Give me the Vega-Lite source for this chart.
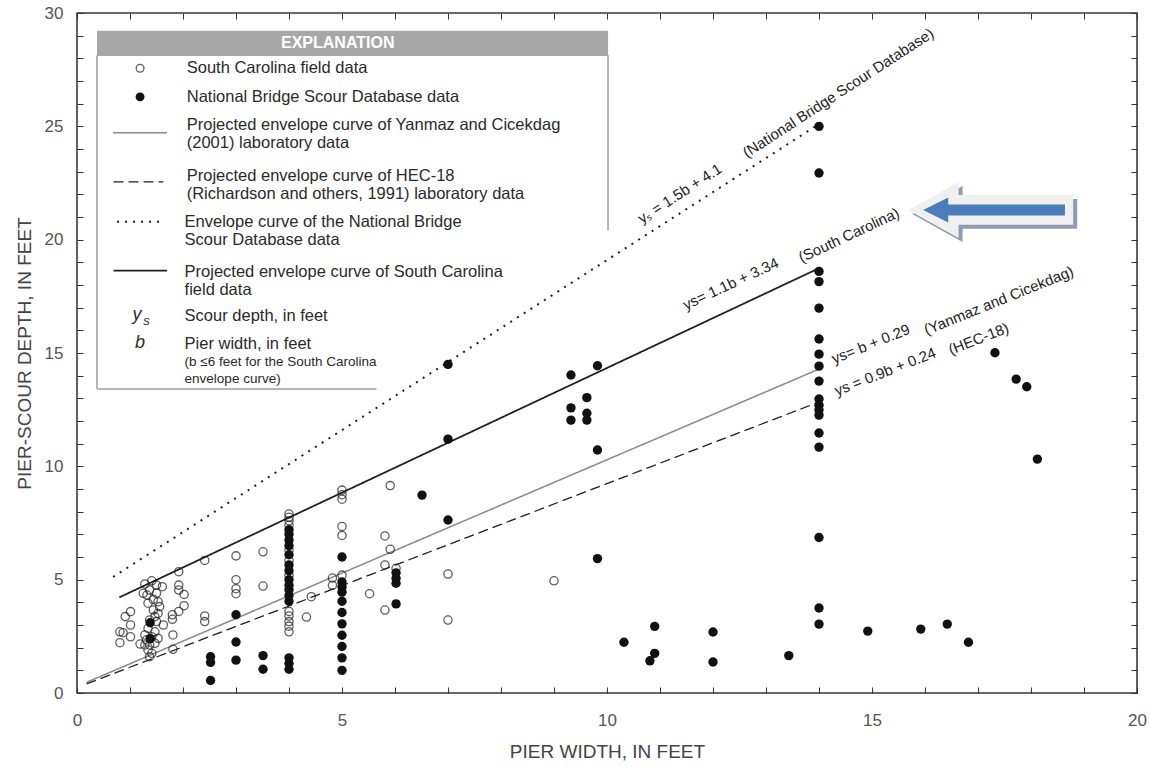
{
  "$schema": "https://vega.github.io/schema/vega-lite/v6.json",
  "width": 1060,
  "height": 680,
  "autosize": {"type": "none"},
  "padding": {"left": 77, "top": 13, "right": 13, "bottom": 74},
  "background": "white",
  "config": {
    "view": {"stroke": "#3a3a3a", "strokeWidth": 1.6},
    "font": "Liberation Sans",
    "text": {"font": "Liberation Sans"}
  },
  "datasets": {
    "scour": [
      {"b": 0.81, "ys": 2.70, "src": "SC"}, {"b": 0.87, "ys": 2.66, "src": "SC"}, {"b": 0.81, "ys": 2.22, "src": "SC"},
      {"b": 0.91, "ys": 3.37, "src": "SC"}, {"b": 1.01, "ys": 3.59, "src": "SC"}, {"b": 1.01, "ys": 3.00, "src": "SC"},
      {"b": 1.01, "ys": 2.48, "src": "SC"}, {"b": 1.19, "ys": 2.16, "src": "SC"},
      {"b": 1.28, "ys": 4.81, "src": "SC"}, {"b": 1.41, "ys": 4.95, "src": "SC"}, {"b": 1.37, "ys": 4.54, "src": "SC"},
      {"b": 1.32, "ys": 4.32, "src": "SC"}, {"b": 1.50, "ys": 4.40, "src": "SC"}, {"b": 1.34, "ys": 3.96, "src": "SC"},
      {"b": 1.53, "ys": 4.03, "src": "SC"}, {"b": 1.44, "ys": 3.66, "src": "SC"}, {"b": 1.53, "ys": 3.51, "src": "SC"},
      {"b": 1.37, "ys": 3.22, "src": "SC"}, {"b": 1.50, "ys": 3.15, "src": "SC"}, {"b": 1.34, "ys": 2.85, "src": "SC"},
      {"b": 1.47, "ys": 2.70, "src": "SC"}, {"b": 1.41, "ys": 2.48, "src": "SC"}, {"b": 1.53, "ys": 2.41, "src": "SC"},
      {"b": 1.31, "ys": 2.34, "src": "SC"}, {"b": 1.37, "ys": 2.12, "src": "SC"}, {"b": 1.47, "ys": 2.19, "src": "SC"},
      {"b": 1.34, "ys": 1.90, "src": "SC"}, {"b": 1.41, "ys": 1.75, "src": "SC"}, {"b": 1.37, "ys": 1.60, "src": "SC"},
      {"b": 1.28, "ys": 2.56, "src": "SC"}, {"b": 1.28, "ys": 2.12, "src": "SC"}, {"b": 1.25, "ys": 4.40, "src": "SC"},
      {"b": 1.50, "ys": 4.76, "src": "SC"}, {"b": 1.44, "ys": 4.13, "src": "SC"}, {"b": 1.56, "ys": 3.81, "src": "SC"},
      {"b": 1.47, "ys": 3.37, "src": "SC"},
      {"b": 1.61, "ys": 4.69, "src": "SC"}, {"b": 1.80, "ys": 3.45, "src": "SC"}, {"b": 1.80, "ys": 3.25, "src": "SC"},
      {"b": 1.81, "ys": 2.56, "src": "SC"}, {"b": 1.81, "ys": 1.93, "src": "SC"}, {"b": 1.92, "ys": 5.35, "src": "SC"},
      {"b": 1.92, "ys": 4.76, "src": "SC"}, {"b": 1.92, "ys": 4.54, "src": "SC"}, {"b": 2.02, "ys": 4.35, "src": "SC"},
      {"b": 2.02, "ys": 3.85, "src": "SC"}, {"b": 1.92, "ys": 3.60, "src": "SC"}, {"b": 1.63, "ys": 3.00, "src": "SC"},
      {"b": 2.41, "ys": 5.85, "src": "SC"}, {"b": 2.41, "ys": 3.40, "src": "SC"}, {"b": 2.41, "ys": 3.15, "src": "SC"},
      {"b": 3.0, "ys": 6.05, "src": "SC"}, {"b": 3.0, "ys": 5.0, "src": "SC"}, {"b": 3.0, "ys": 4.6, "src": "SC"},
      {"b": 3.0, "ys": 4.38, "src": "SC"}, {"b": 3.51, "ys": 6.23, "src": "SC"}, {"b": 3.51, "ys": 4.72, "src": "SC"},
      {"b": 4.0, "ys": 7.9, "src": "SC"}, {"b": 4.0, "ys": 7.75, "src": "SC"}, {"b": 4.0, "ys": 7.6, "src": "SC"},
      {"b": 4.0, "ys": 7.4, "src": "SC"}, {"b": 4.0, "ys": 6.3, "src": "SC"}, {"b": 4.0, "ys": 5.85, "src": "SC"},
      {"b": 4.0, "ys": 5.2, "src": "SC"}, {"b": 4.0, "ys": 3.6, "src": "SC"}, {"b": 4.0, "ys": 3.4, "src": "SC"},
      {"b": 4.0, "ys": 3.15, "src": "SC"}, {"b": 4.0, "ys": 2.95, "src": "SC"}, {"b": 4.0, "ys": 2.7, "src": "SC"},
      {"b": 4.33, "ys": 3.35, "src": "SC"}, {"b": 4.42, "ys": 4.25, "src": "SC"}, {"b": 4.82, "ys": 5.07, "src": "SC"},
      {"b": 4.82, "ys": 4.75, "src": "SC"},
      {"b": 5.0, "ys": 8.95, "src": "SC"}, {"b": 5.0, "ys": 8.75, "src": "SC"}, {"b": 5.0, "ys": 8.55, "src": "SC"},
      {"b": 5.0, "ys": 7.35, "src": "SC"}, {"b": 5.0, "ys": 6.95, "src": "SC"}, {"b": 5.0, "ys": 5.2, "src": "SC"},
      {"b": 5.52, "ys": 4.38, "src": "SC"}, {"b": 5.81, "ys": 6.93, "src": "SC"}, {"b": 5.81, "ys": 5.65, "src": "SC"},
      {"b": 5.81, "ys": 3.66, "src": "SC"}, {"b": 5.91, "ys": 9.15, "src": "SC"}, {"b": 5.91, "ys": 6.34, "src": "SC"},
      {"b": 6.02, "ys": 5.5, "src": "SC"}, {"b": 7.0, "ys": 5.25, "src": "SC"}, {"b": 7.0, "ys": 3.22, "src": "SC"},
      {"b": 9.0, "ys": 4.95, "src": "SC"},

      {"b": 1.38, "ys": 3.1, "src": "NBSD"}, {"b": 1.38, "ys": 2.4, "src": "NBSD"},
      {"b": 2.52, "ys": 1.6, "src": "NBSD"}, {"b": 2.52, "ys": 1.35, "src": "NBSD"}, {"b": 2.52, "ys": 0.55, "src": "NBSD"},
      {"b": 3.0, "ys": 3.45, "src": "NBSD"}, {"b": 3.0, "ys": 2.25, "src": "NBSD"}, {"b": 3.0, "ys": 1.45, "src": "NBSD"},
      {"b": 3.51, "ys": 1.65, "src": "NBSD"}, {"b": 3.51, "ys": 1.05, "src": "NBSD"},
      {"b": 4.0, "ys": 7.2, "src": "NBSD"}, {"b": 4.0, "ys": 7.0, "src": "NBSD"}, {"b": 4.0, "ys": 6.75, "src": "NBSD"},
      {"b": 4.0, "ys": 6.5, "src": "NBSD"}, {"b": 4.0, "ys": 6.1, "src": "NBSD"}, {"b": 4.0, "ys": 5.65, "src": "NBSD"},
      {"b": 4.0, "ys": 5.4, "src": "NBSD"}, {"b": 4.0, "ys": 5.0, "src": "NBSD"}, {"b": 4.0, "ys": 4.75, "src": "NBSD"},
      {"b": 4.0, "ys": 4.55, "src": "NBSD"}, {"b": 4.0, "ys": 4.3, "src": "NBSD"}, {"b": 4.0, "ys": 4.05, "src": "NBSD"},
      {"b": 4.0, "ys": 1.55, "src": "NBSD"}, {"b": 4.0, "ys": 1.3, "src": "NBSD"}, {"b": 4.0, "ys": 1.05, "src": "NBSD"},
      {"b": 5.0, "ys": 6.0, "src": "NBSD"}, {"b": 5.0, "ys": 4.9, "src": "NBSD"}, {"b": 5.0, "ys": 4.68, "src": "NBSD"},
      {"b": 5.0, "ys": 4.45, "src": "NBSD"}, {"b": 5.0, "ys": 4.05, "src": "NBSD"}, {"b": 5.0, "ys": 3.55, "src": "NBSD"},
      {"b": 5.0, "ys": 3.05, "src": "NBSD"}, {"b": 5.0, "ys": 2.55, "src": "NBSD"}, {"b": 5.0, "ys": 2.05, "src": "NBSD"},
      {"b": 5.0, "ys": 1.55, "src": "NBSD"}, {"b": 5.0, "ys": 1.0, "src": "NBSD"},
      {"b": 6.02, "ys": 5.3, "src": "NBSD"}, {"b": 6.02, "ys": 5.06, "src": "NBSD"}, {"b": 6.02, "ys": 4.84, "src": "NBSD"},
      {"b": 6.02, "ys": 3.93, "src": "NBSD"},
      {"b": 6.51, "ys": 8.73, "src": "NBSD"}, {"b": 7.0, "ys": 14.5, "src": "NBSD"}, {"b": 7.0, "ys": 11.2, "src": "NBSD"},
      {"b": 7.0, "ys": 7.63, "src": "NBSD"},
      {"b": 9.32, "ys": 14.03, "src": "NBSD"}, {"b": 9.32, "ys": 12.58, "src": "NBSD"}, {"b": 9.32, "ys": 12.04, "src": "NBSD"},
      {"b": 9.62, "ys": 13.03, "src": "NBSD"}, {"b": 9.62, "ys": 12.34, "src": "NBSD"}, {"b": 9.62, "ys": 12.04, "src": "NBSD"},
      {"b": 9.82, "ys": 14.44, "src": "NBSD"}, {"b": 9.82, "ys": 10.72, "src": "NBSD"}, {"b": 9.82, "ys": 5.93, "src": "NBSD"},
      {"b": 10.32, "ys": 2.24, "src": "NBSD"}, {"b": 10.81, "ys": 1.42, "src": "NBSD"}, {"b": 10.9, "ys": 2.94, "src": "NBSD"},
      {"b": 10.9, "ys": 1.75, "src": "NBSD"}, {"b": 12.0, "ys": 2.69, "src": "NBSD"}, {"b": 12.0, "ys": 1.37, "src": "NBSD"},
      {"b": 13.43, "ys": 1.65, "src": "NBSD"},
      {"b": 14.0, "ys": 25.0, "src": "NBSD"}, {"b": 14.0, "ys": 22.94, "src": "NBSD"}, {"b": 14.0, "ys": 18.6, "src": "NBSD"},
      {"b": 14.0, "ys": 18.15, "src": "NBSD"}, {"b": 14.0, "ys": 16.98, "src": "NBSD"}, {"b": 14.0, "ys": 15.62, "src": "NBSD"},
      {"b": 14.0, "ys": 14.95, "src": "NBSD"}, {"b": 14.0, "ys": 14.42, "src": "NBSD"}, {"b": 14.0, "ys": 13.76, "src": "NBSD"},
      {"b": 14.0, "ys": 12.97, "src": "NBSD"}, {"b": 14.0, "ys": 12.7, "src": "NBSD"}, {"b": 14.0, "ys": 12.48, "src": "NBSD"},
      {"b": 14.0, "ys": 12.26, "src": "NBSD"}, {"b": 14.0, "ys": 11.47, "src": "NBSD"}, {"b": 14.0, "ys": 10.85, "src": "NBSD"},
      {"b": 14.0, "ys": 6.86, "src": "NBSD"}, {"b": 14.0, "ys": 3.75, "src": "NBSD"}, {"b": 14.0, "ys": 3.04, "src": "NBSD"},
      {"b": 14.92, "ys": 2.73, "src": "NBSD"}, {"b": 15.92, "ys": 2.82, "src": "NBSD"}, {"b": 16.42, "ys": 3.04, "src": "NBSD"},
      {"b": 16.82, "ys": 2.24, "src": "NBSD"}, {"b": 17.32, "ys": 15.01, "src": "NBSD"}, {"b": 17.72, "ys": 13.85, "src": "NBSD"},
      {"b": 17.92, "ys": 13.51, "src": "NBSD"}, {"b": 18.12, "ys": 10.32, "src": "NBSD"}
    ],
    "curves": [
      {"curve": "NBSD", "part": "envelope", "b": 0.68, "ys": 5.12},
      {"curve": "NBSD", "part": "envelope", "b": 14.0, "ys": 25.1},
      {"curve": "SC", "part": "envelope", "b": 0.8, "ys": 4.22},
      {"curve": "SC", "part": "envelope", "b": 14.0, "ys": 18.74},
      {"curve": "Yanmaz", "part": "envelope", "b": 0.18, "ys": 0.47},
      {"curve": "Yanmaz", "part": "envelope", "b": 14.0, "ys": 14.29},
      {"curve": "HEC", "part": "envelope", "b": 0.18, "ys": 0.40},
      {"curve": "HEC", "part": "envelope", "b": 14.0, "ys": 12.84},
      {"curve": "Yanmaz", "part": "key", "b": 0.68, "ys": 24.72},
      {"curve": "Yanmaz", "part": "key", "b": 1.70, "ys": 24.72},
      {"curve": "HEC", "part": "key", "b": 0.69, "ys": 22.55},
      {"curve": "HEC", "part": "key", "b": 1.63, "ys": 22.55},
      {"curve": "NBSD", "part": "key", "b": 0.755, "ys": 20.79},
      {"curve": "NBSD", "part": "key", "b": 1.63, "ys": 20.79},
      {"curve": "SC", "part": "key", "b": 0.69, "ys": 18.63},
      {"curve": "SC", "part": "key", "b": 1.70, "ys": 18.63}
    ],
    "keymarks": [
      {"b": 1.19, "ys": 27.56, "src": "SC"},
      {"b": 1.19, "ys": 26.30, "src": "NBSD"}
    ],
    "frame": [
      {"b": 0.377, "ys": 13.41, "b2": 0.377, "ys2": 28.14},
      {"b": 0.377, "ys": 13.41, "b2": 5.65, "ys2": 13.41},
      {"b": 10.02, "ys": 20.42, "b2": 10.02, "ys2": 28.14}
    ],
    "header": [
      {"b": 0.377, "ys": 28.1, "b2": 10.02, "ys2": 29.22, "text": "EXPLANATION", "bt": 4.92, "yt": 28.67}
    ],
    "notes": [
      {"kind": "key", "b": 2.07, "ys": 27.56, "text": "South Carolina field data"},
      {"kind": "key", "b": 2.07, "ys": 26.30, "text": "National Bridge Scour Database data"},
      {"kind": "key", "b": 2.07, "ys": 25.05, "text": "Projected envelope curve of Yanmaz and Cicekdag"},
      {"kind": "key", "b": 2.07, "ys": 24.25, "text": "(2001) laboratory data"},
      {"kind": "key", "b": 2.07, "ys": 22.81, "text": "Projected envelope curve of HEC-18"},
      {"kind": "key", "b": 2.07, "ys": 22.0, "text": "(Richardson and others, 1991) laboratory data"},
      {"kind": "key", "b": 2.03, "ys": 20.79, "text": "Envelope curve of the National Bridge"},
      {"kind": "key", "b": 2.03, "ys": 19.98, "text": "Scour Database data"},
      {"kind": "key", "b": 2.03, "ys": 18.59, "text": "Projected envelope curve of South Carolina"},
      {"kind": "key", "b": 2.03, "ys": 17.78, "text": "field data"},
      {"kind": "key", "b": 2.03, "ys": 16.63, "text": "Scour depth, in feet"},
      {"kind": "key", "b": 2.03, "ys": 15.38, "text": "Pier width, in feet"},
      {"kind": "note", "b": 2.03, "ys": 14.59, "text": "(b ≤6 feet for the South Carolina"},
      {"kind": "note", "b": 2.03, "ys": 13.85, "text": "envelope curve)"},
      {"kind": "sym", "b": 1.13, "ys": 16.68, "text": "y"},
      {"kind": "sym", "b": 1.19, "ys": 15.42, "text": "b"},
      {"kind": "sub", "b": 1.31, "ys": 16.42, "text": "s"}
    ],
    "equations": [
      {"curve": "NBSD", "b": 10.66, "ys": 20.69, "text": "yₛ = 1.5b + 4.1"},
      {"curve": "NBSD", "b": 12.64, "ys": 23.59, "text": "(National Bridge Scour Database)"},
      {"curve": "SC", "b": 11.49, "ys": 16.89, "text": "ys= 1.1b + 3.34"},
      {"curve": "SC", "b": 13.67, "ys": 18.98, "text": "(South Carolina)"},
      {"curve": "Yanmaz", "b": 14.29, "ys": 14.51, "text": "ys= b + 0.29"},
      {"curve": "Yanmaz", "b": 16.03, "ys": 15.79, "text": "(Yanmaz and Cicekdag)"},
      {"curve": "HEC", "b": 14.34, "ys": 13.1, "text": "ys = 0.9b + 0.24"},
      {"curve": "HEC", "b": 16.49, "ys": 14.91, "text": "(HEC-18)"}
    ],
    "pointer": [
      {"b": 17.24, "ys": 21.31}
    ]
  },
  "encoding": {
    "x": {"field": "b", "type": "quantitative", "scale": {"domain": [0, 20], "nice": false, "zero": false}, "axis": null},
    "y": {"field": "ys", "type": "quantitative", "scale": {"domain": [0, 30], "nice": false, "zero": false}, "axis": null}
  },
  "layer": [
    {
      "data": {"name": "header"},
      "mark": {"type": "rect", "fill": "#a7a7a7"},
      "encoding": {"x2": {"field": "b2"}, "y2": {"field": "ys2"}}
    },
    {
      "data": {"name": "header"},
      "mark": {"type": "text", "color": "white", "fontWeight": "bold", "fontSize": 16, "align": "center", "baseline": "middle"},
      "encoding": {
        "x": {"field": "bt", "type": "quantitative", "scale": {"domain": [0, 20], "nice": false, "zero": false}, "axis": null},
        "y": {"field": "yt", "type": "quantitative", "scale": {"domain": [0, 30], "nice": false, "zero": false}, "axis": null},
        "text": {"field": "text"}
      }
    },
    {
      "data": {"name": "frame"},
      "mark": {"type": "rule", "color": "#b5b5b5", "strokeWidth": 2},
      "encoding": {"x2": {"field": "b2"}, "y2": {"field": "ys2"}}
    },
    {
      "data": {"name": "curves"},
      "mark": {"type": "line"},
      "encoding": {
        "x": {"field": "b", "type": "quantitative", "scale": {"domain": [0, 20], "nice": false, "zero": false},
          "axis": {"orient": "top", "values": [0,1,2,3,4,5,6,7,8,9,10,11,12,13,14,15,16,17,18,19,20], "labels": false, "tickSize": -6, "tickColor": "#333", "domain": false, "grid": false, "title": null}},
        "y": {"field": "ys", "type": "quantitative", "scale": {"domain": [0, 30], "nice": false, "zero": false},
          "axis": {"orient": "right", "values": [0,1,2,3,4,5,6,7,8,9,10,11,12,13,14,15,16,17,18,19,20,21,22,23,24,25,26,27,28,29,30], "labels": false, "tickSize": -6, "tickColor": "#333", "domain": false, "grid": false, "title": null}},
        "detail": {"field": "part"},
        "color": {"field": "curve", "type": "nominal", "legend": null,
          "scale": {"domain": ["NBSD", "SC", "Yanmaz", "HEC"], "range": ["#1e1e1e", "#1e1e1e", "#8a8a8a", "#1e1e1e"]}},
        "strokeDash": {"field": "curve", "type": "nominal", "legend": null,
          "scale": {"domain": ["NBSD", "SC", "Yanmaz", "HEC"], "range": [[2, 6], [1, 0], [1, 0], [10, 5]]}},
        "strokeWidth": {"field": "curve", "type": "nominal", "legend": null,
          "scale": {"domain": ["NBSD", "SC", "Yanmaz", "HEC"], "range": [2, 1.3, 1.6, 1.7]}}
      }
    },
    {
      "data": {"name": "scour"},
      "transform": [{"filter": "datum.src === 'SC'"}],
      "mark": {"type": "point", "shape": "circle", "filled": false, "stroke": "#1a1a1a", "strokeWidth": 1.3, "size": 68},
      "encoding": {
        "x": {"field": "b", "type": "quantitative", "scale": {"domain": [0, 20], "nice": false, "zero": false},
          "axis": {"orient": "bottom", "values": [0,1,2,3,4,5,6,7,8,9,10,11,12,13,14,15,16,17,18,19,20],
            "labelExpr": "datum.value % 5 === 0 ? datum.label : ''", "tickSize": -6, "tickColor": "#333",
            "domain": false, "grid": false, "labelFlush": false, "labelOverlap": false, "labelBound": false,
            "labelFontSize": 17, "labelColor": "#555", "labelPadding": 25, "labelFont": "Liberation Sans",
            "title": "PIER WIDTH, IN FEET", "titleFontSize": 19, "titleFontWeight": "normal", "titleColor": "#444",
            "titleFont": "Liberation Sans", "titlePadding": 14}},
        "y": {"field": "ys", "type": "quantitative", "scale": {"domain": [0, 30], "nice": false, "zero": false},
          "axis": {"orient": "left", "values": [0,1,2,3,4,5,6,7,8,9,10,11,12,13,14,15,16,17,18,19,20,21,22,23,24,25,26,27,28,29,30],
            "labelExpr": "datum.value % 5 === 0 ? datum.label : ''", "tickSize": -6, "tickColor": "#333",
            "domain": false, "grid": false, "labelFlush": false, "labelOverlap": false, "labelBound": false,
            "labelFontSize": 17, "labelColor": "#555", "labelPadding": 20, "labelFont": "Liberation Sans",
            "title": "PIER-SCOUR DEPTH, IN FEET", "titleFontSize": 19, "titleFontWeight": "normal", "titleColor": "#444",
            "titleFont": "Liberation Sans", "titlePadding": 10}}
      }
    },
    {
      "data": {"name": "scour"},
      "transform": [{"filter": "datum.src === 'NBSD'"}],
      "mark": {"type": "point", "shape": "circle", "filled": true, "color": "#111", "opacity": 1, "size": 88}
    },
    {
      "data": {"name": "keymarks"},
      "transform": [{"filter": "datum.src === 'SC'"}],
      "mark": {"type": "point", "shape": "circle", "filled": false, "stroke": "#1a1a1a", "strokeWidth": 1.3, "size": 60}
    },
    {
      "data": {"name": "keymarks"},
      "transform": [{"filter": "datum.src === 'NBSD'"}],
      "mark": {"type": "point", "shape": "circle", "filled": true, "color": "#111", "opacity": 1, "size": 80}
    },
    {
      "data": {"name": "notes"},
      "transform": [{"filter": "datum.kind === 'key'"}],
      "mark": {"type": "text", "align": "left", "baseline": "middle", "fontSize": 16.5, "color": "#2a2a2a"},
      "encoding": {"text": {"field": "text"}}
    },
    {
      "data": {"name": "notes"},
      "transform": [{"filter": "datum.kind === 'note'"}],
      "mark": {"type": "text", "align": "left", "baseline": "middle", "fontSize": 13.5, "color": "#2a2a2a"},
      "encoding": {"text": {"field": "text"}}
    },
    {
      "data": {"name": "notes"},
      "transform": [{"filter": "datum.kind === 'sym'"}],
      "mark": {"type": "text", "align": "center", "baseline": "middle", "fontSize": 18, "fontStyle": "italic", "color": "#2a2a2a"},
      "encoding": {"text": {"field": "text"}}
    },
    {
      "data": {"name": "notes"},
      "transform": [{"filter": "datum.kind === 'sub'"}],
      "mark": {"type": "text", "align": "center", "baseline": "middle", "fontSize": 13, "fontStyle": "italic", "color": "#2a2a2a"},
      "encoding": {"text": {"field": "text"}}
    },
    {
      "data": {"name": "equations"},
      "transform": [{"filter": "datum.curve === 'NBSD'"}],
      "mark": {"type": "text", "align": "left", "baseline": "alphabetic", "fontSize": 15, "angle": 327, "color": "#222"},
      "encoding": {"text": {"field": "text"}}
    },
    {
      "data": {"name": "equations"},
      "transform": [{"filter": "datum.curve === 'SC'"}],
      "mark": {"type": "text", "align": "left", "baseline": "alphabetic", "fontSize": 15, "angle": 335, "color": "#222"},
      "encoding": {"text": {"field": "text"}}
    },
    {
      "data": {"name": "equations"},
      "transform": [{"filter": "datum.curve === 'Yanmaz'"}],
      "mark": {"type": "text", "align": "left", "baseline": "alphabetic", "fontSize": 15, "angle": 338, "color": "#222"},
      "encoding": {"text": {"field": "text"}}
    },
    {
      "data": {"name": "equations"},
      "transform": [{"filter": "datum.curve === 'HEC'"}],
      "mark": {"type": "text", "align": "left", "baseline": "alphabetic", "fontSize": 15, "angle": 338.5, "color": "#222"},
      "encoding": {"text": {"field": "text"}}
    },
    {
      "data": {"name": "pointer"},
      "mark": {"type": "point", "filled": true, "color": "#8f9db0", "opacity": 1, "size": 27225, "xOffset": 4, "yOffset": 4,
        "shape": "M-1,0 L-0.39,-0.34 L-0.39,-0.18 L1,-0.18 L1,0.18 L-0.39,0.18 L-0.39,0.34 Z"}
    },
    {
      "data": {"name": "pointer"},
      "mark": {"type": "point", "filled": true, "color": "#f0f0f0", "opacity": 1, "size": 27225,
        "shape": "M-1,0 L-0.39,-0.34 L-0.39,-0.18 L1,-0.18 L1,0.18 L-0.39,0.18 L-0.39,0.34 Z"}
    },
    {
      "data": {"name": "pointer"},
      "mark": {"type": "point", "filled": true, "color": "#4a7ebb", "opacity": 1, "size": 27225,
        "shape": "M-0.82,0 L-0.515,-0.152 L-0.515,-0.067 L0.9,-0.067 L0.9,0.067 L-0.515,0.067 L-0.515,0.152 Z"}
    }
  ],
  "resolve": {"axis": {"x": "independent", "y": "independent"}}
}
